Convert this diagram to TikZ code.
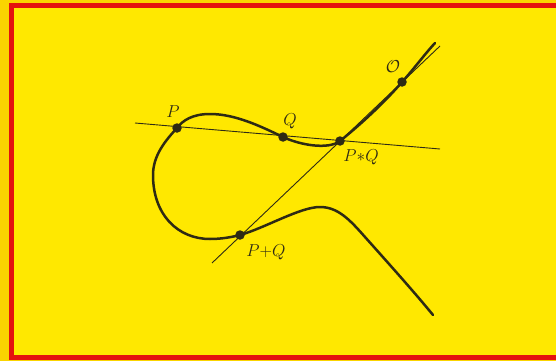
\documentclass[tikz,border=0pt]{standalone}
\begin{document}
\begin{tikzpicture}[x=1pt,y=-1pt,
  dot/.style={circle,fill=curvecol,inner sep=0pt,minimum size=9.5pt},
  lbl/.style={font=\fontsize{17}{19}\selectfont,text=curvecol,inner sep=0pt},
  thinline/.style={draw=curvecol,line width=0.9pt},
  curvestyle/.style={draw=curvecol,line width=2.5pt,line cap=round}]
\definecolor{bgyellow}{HTML}{FFE800}
\definecolor{outeryellow}{HTML}{FAD400}
\definecolor{framered}{HTML}{E4120E}
\definecolor{curvecol}{HTML}{2E2A14}
\useasboundingbox (0,0) rectangle (556,361);
\fill[outeryellow] (0,0) rectangle (556,361);
\fill[bgyellow] (14,8) rectangle (556,355);
% red frame (open on the right)
\draw[framered,line width=5pt] (556,5.5) -- (11.5,5.5) -- (11.5,357.5) -- (556,357.5);
% thin lines
\coordinate (l1a) at (135,123);
\coordinate (l1b) at (440,149);
\coordinate (l2a) at (212,263);
\coordinate (l2b) at (440,46);
\draw[thinline] (l1a) -- (l1b);
\draw[thinline] (l2a) -- (l2b);
% points
\node[dot] (P) at (177,128) {};
\node[dot] (Q) at (283,137) {};
\node[dot] (PQ) at (340,141) {};
\node[dot] (O) at (402,82) {};
\node[dot] (PpQ) at (240,235) {};
% the curve
\coordinate (cs) at (435,43);
\coordinate (ctop) at (210,114);
\coordinate (cleft) at (153,175);
\coordinate (cbot) at (210,239);
\coordinate (cmax) at (320,207);
\coordinate (cmid) at (365,237);
\coordinate (ce) at (433,315);
\draw[curvestyle]
  (cs) .. controls (424,55) and (413,70) .. (O.center)
  .. controls (385,102) and (360,125) .. (PQ.center)
  .. controls (328,150) and (300,145) .. (Q.center)
  .. controls (260,126) and (235,114) .. (ctop)
  .. controls (193,114) and (183,120) .. (P.center)
  .. controls (166,140) and (153,155) .. (cleft)
  .. controls (153,215) and (178,239) .. (cbot)
  .. controls (222,239) and (232,237) .. (PpQ.center)
  .. controls (265,228) and (300,207) .. (cmax)
  .. controls (338,207) and (350,220) .. (cmid)
  .. controls (390,265) and (415,293) .. (ce);
% labels
\node[lbl] (lP) at (173,112) {$P$};
\node[lbl] (lQ) at (290,121) {$Q$};
\node[lbl] (lO) at (393,67) {$\mathcal{O}$};
\node[lbl] (lPQ) at (361,157) {$P{\ast}Q$};
\node[lbl] (lPpQ) at (266,252) {$P{+}Q$};
\end{tikzpicture}
\end{document}
